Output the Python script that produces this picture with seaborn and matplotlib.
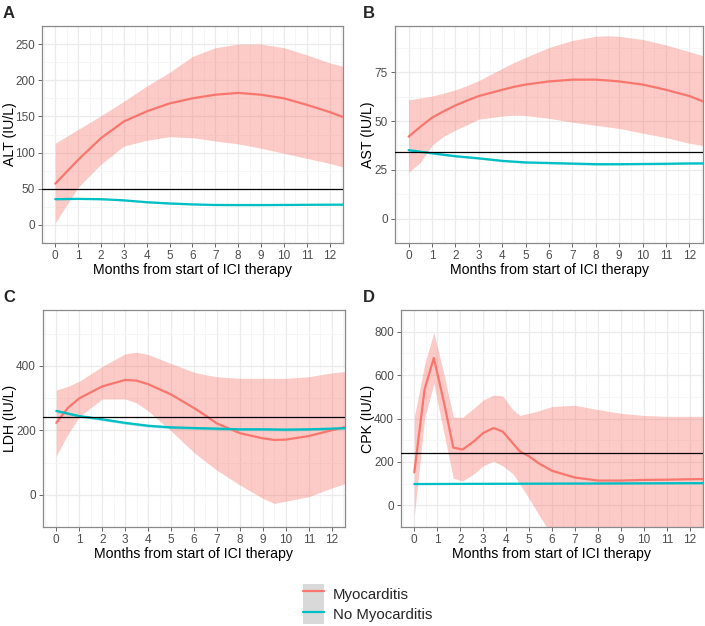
import numpy as np
import pandas as pd
import seaborn as sns
import matplotlib
matplotlib.use("Agg")
import matplotlib.pyplot as plt
from matplotlib.lines import Line2D
from matplotlib.patches import Patch
from matplotlib.legend_handler import HandlerTuple

sns.set_theme(style="white")
plt.rcParams['font.family'] = ['Liberation Sans', 'DejaVu Sans']

groups = ["Myocarditis", "No Myocarditis"]
colors = {"Myocarditis": "#F8766D", "No Myocarditis": "#00BFC4"}

# ---- Panel A: ALT ----
alt_m_x = [0, 1, 2, 3, 4, 5, 6, 7, 8, 9, 10, 11, 12, 12.6]
alt_m_y = [57, 90, 120, 143, 157, 168, 175, 180, 182.5, 180, 175, 166, 156, 149]
alt_m_hi = [113, 132, 151, 171, 192, 211, 233, 245, 250, 250, 245, 235, 224, 219]
alt_m_lo = [3, 52, 84, 109, 117, 122, 120.5, 116, 112, 106, 99, 92, 85, 80]
alt_n_x = [0, 1, 2, 3, 4, 5, 6, 7, 8, 9, 10, 11, 12, 12.6]
alt_n_y = [35.6, 36, 35.6, 34, 31.4, 29.7, 28.4, 27.6, 27.5, 27.5, 27.6, 27.8, 28, 28]
alt_ref = 49

# ---- Panel B: AST ----
ast_m_x = [0, 0.5, 1, 1.5, 2, 2.5, 3, 4, 4.5, 5, 6, 7, 8, 8.5, 9, 10, 11, 12, 12.6]
ast_m_y = [42, 47, 51.7, 55, 58, 60.5, 62.8, 66, 67.5, 68.7, 70.3, 71.2, 71.2, 70.8, 70.3, 68.7, 66, 62.8, 60]
ast_m_hi = [60.8, 61.8, 62.8, 64.3, 66, 68.2, 70.7, 77, 80, 82.6, 87.7, 91.3, 93.4, 93.7, 93.4, 91.8, 89, 85.5, 83.4]
ast_m_lo = [23.7, 28.8, 37.5, 42.2, 45.4, 48.1, 51, 52.5, 53, 52.8, 51.4, 49.4, 47.8, 47, 46.2, 43.8, 41.5, 38.6, 37.5]
ast_n_x = [0, 1, 2, 3, 4, 5, 6, 7, 8, 9, 10, 11, 12, 12.6]
ast_n_y = [35.1, 33.5, 32, 30.9, 29.6, 28.8, 28.5, 28.2, 27.9, 27.9, 28, 28.1, 28.3, 28.3]
ast_ref = 34

# ---- Panel C: LDH ----
ldh_m_x = [0, 0.5, 1, 2, 3, 3.5, 4, 5, 6, 6.5, 7, 8, 9, 9.5, 10, 11, 12, 12.6]
ldh_m_y = [223, 269, 299, 336, 356, 354, 343, 311, 269, 246, 221, 191, 175, 170, 171, 182, 200, 210]
ldh_m_hi = [325, 336, 352, 398, 437, 442, 435, 407, 380, 372, 366, 361, 361, 361, 361, 366, 378, 382]
ldh_m_lo = [120, 187, 242, 297, 297, 285, 260, 198, 131, 103, 76, 30, -11, -27, -20, -6, 21, 35]
ldh_n_x = [0, 1, 2, 3, 4, 5, 6, 7, 8, 9, 10, 11, 12, 12.6]
ldh_n_y = [260, 244, 234, 223, 214, 209, 207, 205, 203, 203, 202, 203, 205, 207]
ldh_ref = 240

# ---- Panel D: CPK ----
cpk_m_x = [0, 0.45, 0.85, 1.3, 1.7, 2.1, 2.6, 3, 3.45, 3.85, 4.3, 4.6, 5, 5.4, 6, 7, 8, 9, 10, 11, 12, 12.6]
cpk_m_y = [152, 535, 679, 470, 266, 257, 295, 333, 356, 340, 285, 248, 226, 195, 159, 128, 114, 114, 117, 118, 120, 121]
cpk_m_hi = [407, 649, 797, 600, 407, 405, 448, 485, 508, 504, 440, 414, 424, 435, 455, 461, 441, 424, 414, 410, 410, 410]
cpk_m_lo = [-50, 401, 562, 327, 125, 112, 145, 182, 203, 182, 145, 98, 31, -39, -140, -210, -230, -200, -180, -175, -170, -168]
cpk_n_x = [0, 3, 6, 9, 12, 12.6]
cpk_n_y = [98, 99, 100, 101, 102, 102]
cpk_ref = 240

panels = [
    dict(tag="A", ylabel="ALT (IU/L)", mx=alt_m_x, my=alt_m_y, hi=alt_m_hi, lo=alt_m_lo,
         nx=alt_n_x, ny=alt_n_y, nse=1.0, ref=alt_ref, ylim=(-12, 265), yt=[0, 50, 100, 150, 200, 250],
         pos=(42, 26, 343, 243), tagpos=(3, 6), ylx=17),
    dict(tag="B", ylabel="AST (IU/L)", mx=ast_m_x, my=ast_m_y, hi=ast_m_hi, lo=ast_m_lo,
         nx=ast_n_x, ny=ast_n_y, nse=0.5, ref=ast_ref, ylim=(-4.3, 98.7), yt=[0, 25, 50, 75],
         pos=(395, 26, 703, 243), tagpos=(363, 6), ylx=375),
    dict(tag="C", ylabel="LDH (IU/L)", mx=ldh_m_x, my=ldh_m_y, hi=ldh_m_hi, lo=ldh_m_lo,
         nx=ldh_n_x, ny=ldh_n_y, nse=4.0, ref=ldh_ref, ylim=(-26, 573), yt=[0, 200, 400],
         pos=(43, 310, 345, 527), tagpos=(3, 290), ylx=17),
    dict(tag="D", ylabel="CPK (IU/L)", mx=cpk_m_x, my=cpk_m_y, hi=cpk_m_hi, lo=cpk_m_lo,
         nx=cpk_n_x, ny=cpk_n_y, nse=3.0, ref=cpk_ref, ylim=(-37.5, 837.5), yt=[0, 200, 400, 600, 800],
         pos=(401, 310, 703, 527), tagpos=(363, 290), ylx=375),
]

W, H = 705, 626
fig = plt.figure(figsize=(W / 100, H / 100), dpi=100)
xt = list(range(0, 13))

for p in panels:
    x0, y0, x1, y1 = p["pos"]
    ax = fig.add_axes([x0 / W, (H - y1) / H, (x1 - x0) / W, (y1 - y0) / H])
    ax.set_facecolor("white")
    ax.fill_between(p["mx"], p["lo"], p["hi"], color=colors["Myocarditis"], alpha=0.38, lw=0, zorder=2)
    ny = np.array(p["ny"], dtype=float)
    ax.fill_between(p["nx"], ny - p["nse"], ny + p["nse"], color=colors["No Myocarditis"], alpha=0.38, lw=0, zorder=2)
    df = pd.concat([
        pd.DataFrame({"month": p["mx"], "value": p["my"], "group": "Myocarditis"}),
        pd.DataFrame({"month": p["nx"], "value": p["ny"], "group": "No Myocarditis"}),
    ])
    sns.lineplot(data=df, x="month", y="value", hue="group", palette=colors, ax=ax,
                 linewidth=1.6, legend=False, zorder=4, sort=True, estimator=None)
    ax.axhline(p["ref"], color="black", lw=0.9, zorder=5)
    ax.set_xlim(-0.58, 12.58)
    ax.set_ylim(*p["ylim"])
    ax.set_xticks(xt)
    ax.set_xticklabels([str(v) for v in xt])
    yt = p["yt"]
    ax.set_yticks(yt)
    ax.set_yticklabels([str(v) for v in yt])
    step = yt[1] - yt[0]
    ax.set_xticks([v + 0.5 for v in range(-1, 13)], minor=True)
    ax.set_yticks([yt[0] - step / 2] + [v + step / 2 for v in yt], minor=True)
    ax.grid(True, which="major", color="#EBEBEB", lw=0.9, zorder=0)
    ax.grid(True, which="minor", color="#F5F5F5", lw=0.6, zorder=0)
    ax.set_axisbelow(True)
    ax.tick_params(axis="both", which="major", labelsize=8.5, labelcolor="#4D4D4D",
                   color="#4D4D4D", length=3, width=0.6, pad=2, bottom=True, left=True)
    ax.tick_params(axis="both", which="minor", length=0)
    for s in ax.spines.values():
        s.set_color("#8A8A8A")
        s.set_linewidth(0.9)
    ax.set_xlabel("Months from start of ICI therapy", fontsize=10.2, color="black", labelpad=1)
    ax.set_ylabel(p["ylabel"], fontsize=10.2, color="black")
    ax.yaxis.set_label_coords((p["ylx"] - x0) / (x1 - x0), 0.5)
    tx, ty = p["tagpos"]
    fig.text(tx / W, 1 - ty / H, p["tag"], fontsize=12, fontweight="bold", ha="left", va="top")

handles = [
    (Patch(facecolor="#D9D9D9", edgecolor="none"), Line2D([], [], color=colors[g], lw=1.6))
    for g in groups
]
fs = 10.8
fig.legend(handles=handles, labels=groups, loc="upper left", bbox_to_anchor=(303 / W, 1 - 584 / H),
           frameon=False, fontsize=fs, handlelength=21 / (fs * 1.389), handleheight=1.68,
           labelspacing=0, borderpad=0, borderaxespad=0, handletextpad=0.6,
           handler_map={tuple: HandlerTuple(ndivide=1)})

fig.savefig("out.png", dpi=100)
